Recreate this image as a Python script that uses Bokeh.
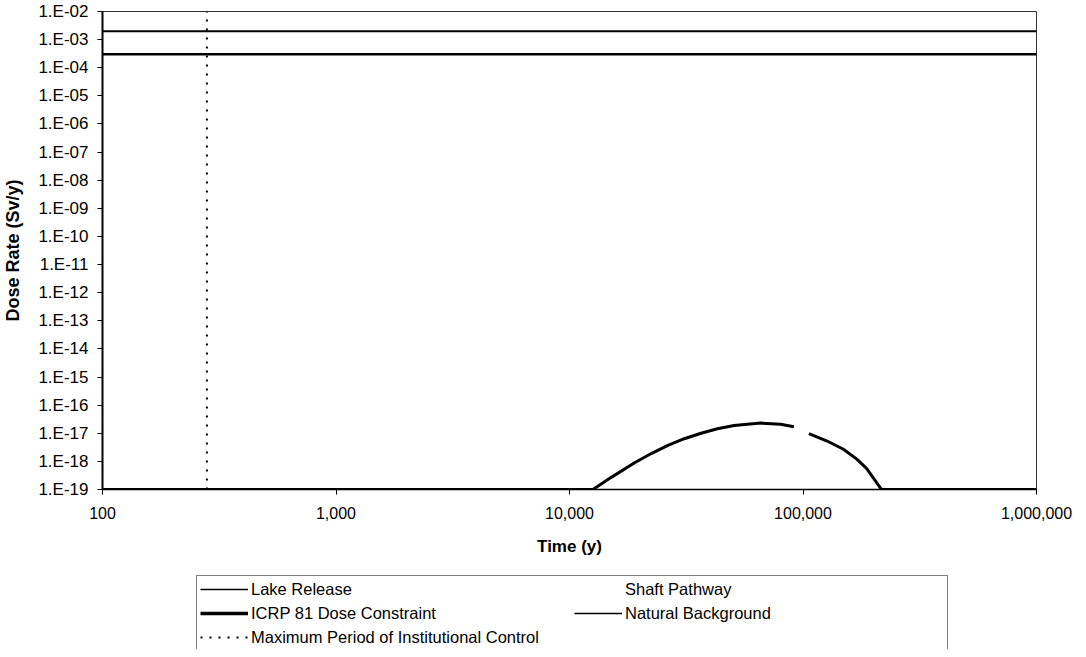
from bokeh.plotting import figure
from bokeh.layouts import column
from bokeh.models import Legend, LegendItem, FixedTicker
from bokeh.embed import file_html
from bokeh.resources import INLINE

FONT = "Liberation Sans"

# ---- data ----
x_ticks = [100, 1000, 10000, 100000, 1000000]
x_tick_labels = ["100", "1,000", "10,000", "100,000", "1,000,000"]
y_ticks = [1e-2, 1e-3, 1e-4, 1e-5, 1e-6, 1e-7, 1e-8, 1e-9, 1e-10, 1e-11,
           1e-12, 1e-13, 1e-14, 1e-15, 1e-16, 1e-17, 1e-18, 1e-19]
y_tick_labels = ["1.E-02", "1.E-03", "1.E-04", "1.E-05", "1.E-06", "1.E-07",
                 "1.E-08", "1.E-09", "1.E-10", "1.E-11", "1.E-12", "1.E-13",
                 "1.E-14", "1.E-15", "1.E-16", "1.E-17", "1.E-18", "1.E-19"]

NaN = float("nan")
lake_time = [100, 12600, 15100, 19000, 22400, 26400, 31000, 36600, 43000, 50700,
             65900, 80200, 91400, NaN, 106000, 126800, 149000, 170000, 187500,
             217000, 1000000]
lake_dose = [1e-19, 1e-19, 2.7e-19, 8.9e-19, 1.9e-18, 3.7e-18, 6.4e-18, 1.0e-17,
             1.45e-17, 1.9e-17, 2.3e-17, 2.1e-17, 1.7e-17, NaN, 9.8e-18, 5.3e-18,
             2.7e-18, 1.2e-18, 5.5e-19, 1e-19, 1e-19]

shaft_time = [100, 1000000]
shaft_dose = [1e-19, 1e-19]

icrp_constraint = 3e-4
natural_background = 2e-3
institutional_control_end = 280

x_min, x_max = 100, 1000000
y_min, y_max = 1e-19, 1e-2

series_names = ["Lake Release", "ICRP 81 Dose Constraint",
                "Maximum Period of Institutional Control",
                "Shaft Pathway", "Natural Background"]

series_xy = {
    "Lake Release": (lake_time, lake_dose),
    "Shaft Pathway": (shaft_time, shaft_dose),
    "ICRP 81 Dose Constraint": ([x_min, x_max], [icrp_constraint, icrp_constraint]),
    "Natural Background": ([x_min, x_max], [natural_background, natural_background]),
    "Maximum Period of Institutional Control": ([institutional_control_end] * 2, [y_min, y_max]),
}

# ---- styles (plot) ----
PLOT_STY = {
    "Lake Release": dict(line_color="black", line_width=3),
    "Shaft Pathway": dict(line_color="black", line_width=1.5, line_alpha=0),
    "ICRP 81 Dose Constraint": dict(line_color="black", line_width=2.5),
    "Natural Background": dict(line_color="black", line_width=2),
    "Maximum Period of Institutional Control": dict(line_color="black", line_width=2,
                                                     line_dash="2 7"),
}
# ---- styles (legend samples) ----
LEG_STY = {
    "Lake Release": dict(line_color="black", line_width=1.5),
    "Shaft Pathway": dict(line_color="black", line_width=1.5, line_alpha=0),
    "ICRP 81 Dose Constraint": dict(line_color="black", line_width=3.5),
    "Natural Background": dict(line_color="black", line_width=1.5),
    "Maximum Period of Institutional Control": dict(line_color="black", line_width=2,
                                                     line_dash="2 7"),
}

# ---- main figure ----
p = figure(width=1072, height=567, x_axis_type="log", y_axis_type="log",
           x_range=(x_min, x_max), y_range=(y_min, y_max),
           output_backend="svg", toolbar_location=None,
           min_border_left=97, min_border_right=36, min_border_top=11,
           min_border_bottom=78)
p.background_fill_color = "white"
p.border_fill_color = "white"
p.outline_line_color = "#333333"
p.outline_line_width = 1
p.xgrid.visible = False
p.ygrid.visible = False

for name in series_names:
    xs, ys = series_xy[name]
    p.line(xs, ys, **PLOT_STY[name])

xa = p.xaxis[0]
xa.ticker = FixedTicker(ticks=x_ticks, minor_ticks=[])
xa.major_label_overrides = {t: l for t, l in zip(x_ticks, x_tick_labels)}
xa.axis_label = "Time (y)"
ya = p.yaxis[0]
ya.ticker = FixedTicker(ticks=y_ticks, minor_ticks=[])
ya.major_label_overrides = {t: l for t, l in zip(y_ticks, y_tick_labels)}
ya.axis_label = "Dose Rate (Sv/y)"

for ax in (xa, ya):
    ax.major_tick_out = 5
    ax.major_tick_in = 0
    ax.minor_tick_out = 0
    ax.minor_tick_in = 0
    ax.major_tick_line_color = "black"
    ax.axis_line_color = "black"
    ax.major_label_text_font = FONT
    ax.major_label_text_color = "black"
    ax.axis_label_text_font = FONT
    ax.axis_label_text_font_style = "bold"
    ax.axis_label_text_color = "black"
xa.axis_label_text_font_size = "17px"
ya.axis_label_text_font_size = "18px"
xa.major_label_text_font_size = "16px"
ya.major_label_text_font_size = "17px"
ya.axis_line_width = 2
xa.axis_line_width = 1.5
ya.major_label_standoff = 9
ya.axis_label_standoff = 12
xa.major_label_standoff = 12
xa.axis_label_standoff = 15

# ---- legend strip below ----
pl = figure(width=1072, height=82, output_backend="svg", toolbar_location=None,
            x_axis_location=None, y_axis_location=None,
            x_range=(0, 1), y_range=(0, 1),
            min_border_left=0, min_border_right=0, min_border_top=0, min_border_bottom=0)
pl.outline_line_color = None
pl.xgrid.visible = False
pl.ygrid.visible = False
pl.background_fill_color = "white"
pl.border_fill_color = "white"

items = []
for name in series_names:
    xs, ys = series_xy[name]
    r = pl.line(xs, ys, **LEG_STY[name])
    items.append(LegendItem(label=name, renderers=[r]))

legend = Legend(items=items, location=(94, -2), orientation="vertical", ncols=2)
legend.label_text_font = FONT
legend.label_text_font_size = "16.5px"
legend.label_text_color = "black"
legend.glyph_width = 48
legend.glyph_height = 20
legend.label_height = 20
legend.label_width = 319
legend.label_standoff = 3
legend.spacing = 4
legend.padding = 3
legend.margin = 0
legend.border_line_color = "black"
legend.border_line_width = 1
legend.background_fill_alpha = 0
pl.add_layout(legend)

layout = column(p, pl, spacing=0)
open("out.html", "w").write(file_html(layout, INLINE))
